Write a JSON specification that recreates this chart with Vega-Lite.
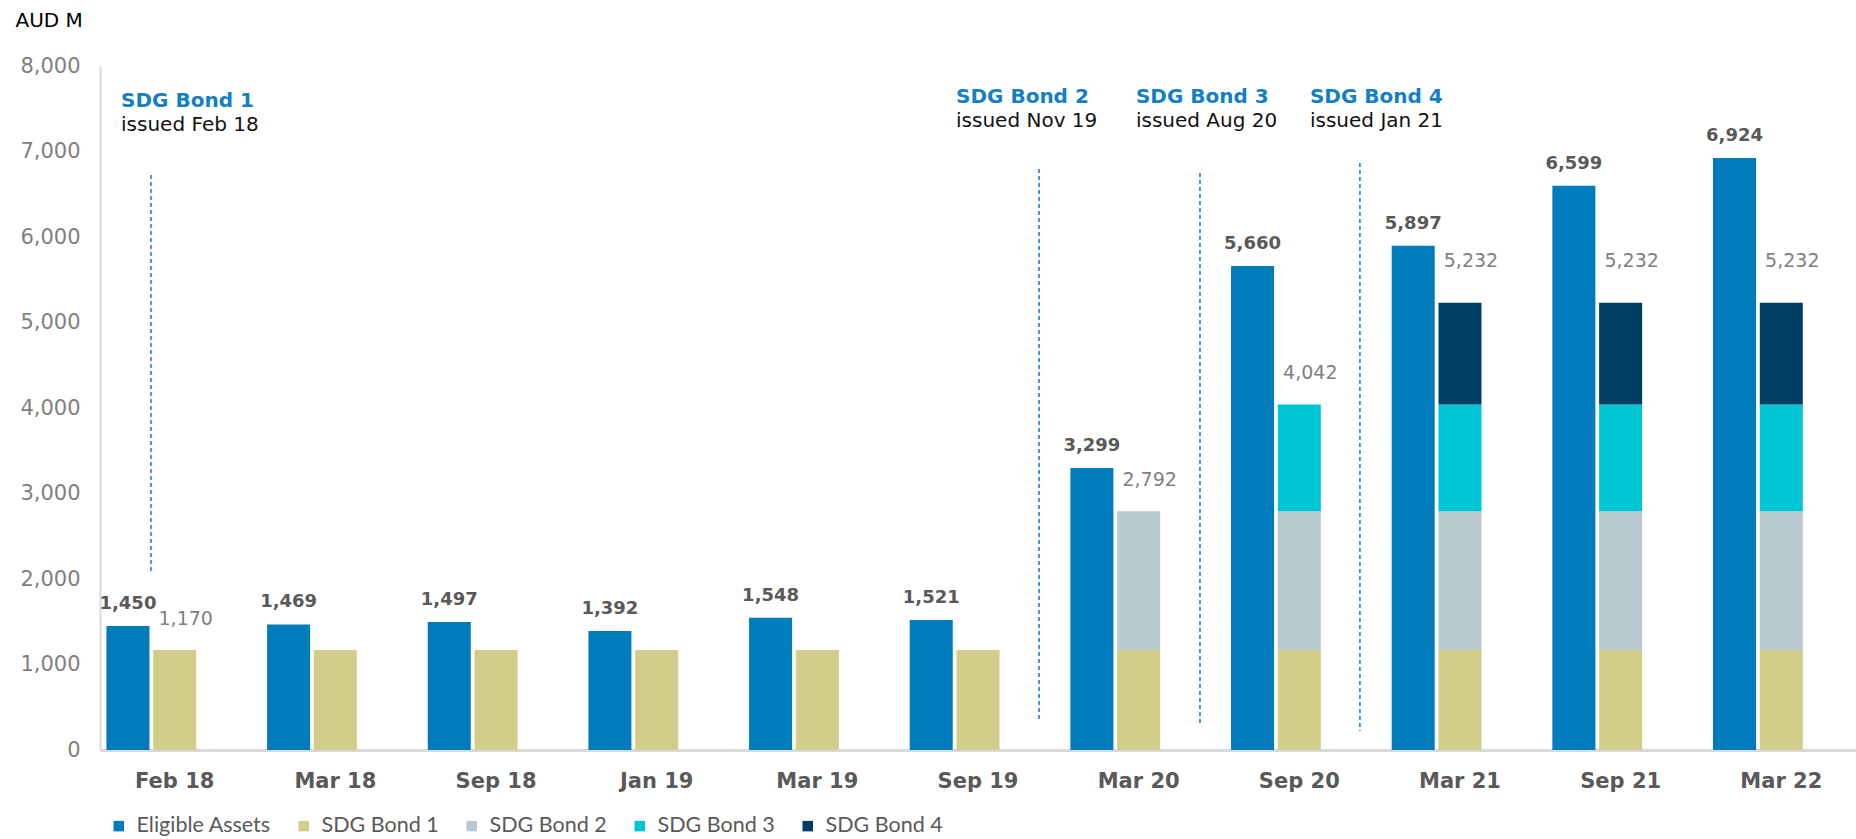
{
  "$schema": "https://vega.github.io/schema/vega-lite/v6.json",
  "width": 1756,
  "height": 684,
  "autosize": {"type": "none"},
  "padding": {"left": 100, "top": 66, "right": 0, "bottom": 89},
  "config": {"view": {"stroke": null}, "font": "DejaVu Sans"},
  "datasets": {
    "bars": [
      {"period": "Feb 18", "series": "Eligible Assets", "value": 1450},
      {"period": "Mar 18", "series": "Eligible Assets", "value": 1469},
      {"period": "Sep 18", "series": "Eligible Assets", "value": 1497},
      {"period": "Jan 19", "series": "Eligible Assets", "value": 1392},
      {"period": "Mar 19", "series": "Eligible Assets", "value": 1548},
      {"period": "Sep 19", "series": "Eligible Assets", "value": 1521},
      {"period": "Mar 20", "series": "Eligible Assets", "value": 3299},
      {"period": "Sep 20", "series": "Eligible Assets", "value": 5660},
      {"period": "Mar 21", "series": "Eligible Assets", "value": 5897},
      {"period": "Sep 21", "series": "Eligible Assets", "value": 6599},
      {"period": "Mar 22", "series": "Eligible Assets", "value": 6924},
      {"period": "Feb 18", "series": "SDG Bond 1", "value": 1170},
      {"period": "Mar 18", "series": "SDG Bond 1", "value": 1170},
      {"period": "Sep 18", "series": "SDG Bond 1", "value": 1170},
      {"period": "Jan 19", "series": "SDG Bond 1", "value": 1170},
      {"period": "Mar 19", "series": "SDG Bond 1", "value": 1170},
      {"period": "Sep 19", "series": "SDG Bond 1", "value": 1170},
      {"period": "Mar 20", "series": "SDG Bond 1", "value": 1170},
      {"period": "Sep 20", "series": "SDG Bond 1", "value": 1170},
      {"period": "Mar 21", "series": "SDG Bond 1", "value": 1170},
      {"period": "Sep 21", "series": "SDG Bond 1", "value": 1170},
      {"period": "Mar 22", "series": "SDG Bond 1", "value": 1170},
      {"period": "Mar 20", "series": "SDG Bond 2", "value": 1622},
      {"period": "Sep 20", "series": "SDG Bond 2", "value": 1622},
      {"period": "Mar 21", "series": "SDG Bond 2", "value": 1622},
      {"period": "Sep 21", "series": "SDG Bond 2", "value": 1622},
      {"period": "Mar 22", "series": "SDG Bond 2", "value": 1622},
      {"period": "Sep 20", "series": "SDG Bond 3", "value": 1250},
      {"period": "Mar 21", "series": "SDG Bond 3", "value": 1250},
      {"period": "Sep 21", "series": "SDG Bond 3", "value": 1250},
      {"period": "Mar 22", "series": "SDG Bond 3", "value": 1250},
      {"period": "Mar 21", "series": "SDG Bond 4", "value": 1190},
      {"period": "Sep 21", "series": "SDG Bond 4", "value": 1190},
      {"period": "Mar 22", "series": "SDG Bond 4", "value": 1190}
    ],
    "totals": [
      {"period": "Feb 18", "total": 1170},
      {"period": "Mar 20", "total": 2792},
      {"period": "Sep 20", "total": 4042},
      {"period": "Mar 21", "total": 5232},
      {"period": "Sep 21", "total": 5232},
      {"period": "Mar 22", "total": 5232}
    ]
  },
  "layer": [
    {
      "data": {"name": "bars"},
      "transform": [{"filter": "datum.series === 'Eligible Assets'"}],
      "mark": {"type": "bar"},
      "encoding": {
        "x": {
          "field": "period", "type": "nominal",
          "sort": ["Feb 18","Mar 18","Sep 18","Jan 19","Mar 19","Sep 19","Mar 20","Sep 20","Mar 21","Sep 21","Mar 22"],
          "scale": {"domain": ["Feb 18","Mar 18","Sep 18","Jan 19","Mar 19","Sep 19","Mar 20","Sep 20","Mar 21","Sep 21","Mar 22"], "paddingInner": 0.15, "paddingOuter": 0.04},
          "axis": {"title": null, "labelAngle": 0, "labelFont": "DejaVu Sans", "labelFontWeight": "bold", "labelFontSize": 21, "labelColor": "#595959", "ticks": false, "tickSize": 0, "labelPadding": 20, "domainColor": "#d9d9d9", "domainWidth": 3}
        },
        "xOffset": {"datum": "A", "type": "nominal", "scale": {"domain": ["A", "B", "C"], "paddingInner": 0.08, "paddingOuter": 0}},
        "y": {
          "field": "value", "type": "quantitative", "stack": null,
          "scale": {"domain": [0, 8000], "nice": false},
          "axis": {"title": "AUD M", "titleAngle": 0, "titleAlign": "left", "titleBaseline": "alphabetic", "titleX": -85, "titleY": -40, "titleFont": "DejaVu Sans", "titleFontSize": 20, "titleFontWeight": "normal", "titleColor": "#000000",
                   "values": [0,1000,2000,3000,4000,5000,6000,7000,8000], "labelExpr": "format(datum.value, ',')", "labelFontSize": 21, "labelColor": "#7f7f7f", "ticks": false, "tickSize": 0, "labelPadding": 20, "grid": false, "domainColor": "#d9d9d9", "domainWidth": 2}
        },
        "color": {
          "field": "series", "type": "nominal",
          "scale": {"domain": ["Eligible Assets","SDG Bond 1","SDG Bond 2","SDG Bond 3","SDG Bond 4"], "range": ["#007bbb","#d3cd8b","#b8c9d0","#00c5d5","#003f63"]},
          "legend": {"title": null, "orient": "none", "legendX": 8, "legendY": 749, "direction": "horizontal", "symbolType": "square", "symbolSize": 110, "symbolStrokeWidth": 0, "labelFont": "Lato", "labelFontSize": 21.5, "labelColor": "#595959", "columnPadding": 22, "labelOffset": 7}
        }
      }
    },
    {
      "data": {"name": "bars"},
      "transform": [{"filter": "datum.series !== 'Eligible Assets'"}],
      "mark": {"type": "bar"},
      "encoding": {
        "x": {"field": "period", "type": "nominal"},
        "xOffset": {"datum": "B", "type": "nominal"},
        "y": {"field": "value", "type": "quantitative", "stack": "zero"},
        "color": {"field": "series", "type": "nominal"},
        "order": {"field": "series", "sort": "ascending"}
      }
    },
    {
      "data": {"name": "bars"},
      "transform": [{"filter": "datum.series === 'Eligible Assets'"}],
      "mark": {"type": "text", "baseline": "alphabetic", "dy": -17, "fontWeight": "bold", "fontSize": 18, "fill": "#595959", "font": "DejaVu Sans"},
      "encoding": {
        "x": {"field": "period", "type": "nominal"},
        "xOffset": {"datum": "A", "type": "nominal"},
        "y": {"field": "value", "type": "quantitative"},
        "text": {"field": "value", "type": "quantitative", "format": ","}
      }
    },
    {
      "data": {"name": "totals"},
      "transform": [{"filter": "datum.total < 5000"}],
      "mark": {"type": "text", "baseline": "alphabetic", "dx": 11, "dy": -25, "fontSize": 19, "fill": "#7f7f7f", "font": "DejaVu Sans"},
      "encoding": {
        "x": {"field": "period", "type": "nominal"},
        "xOffset": {"datum": "B", "type": "nominal"},
        "y": {"field": "total", "type": "quantitative"},
        "text": {"field": "total", "type": "quantitative", "format": ","}
      }
    },
    {
      "data": {"name": "totals"},
      "transform": [{"filter": "datum.total >= 5000"}],
      "mark": {"type": "text", "baseline": "alphabetic", "dx": 11, "dy": -36, "fontSize": 19, "fill": "#7f7f7f", "font": "DejaVu Sans"},
      "encoding": {
        "x": {"field": "period", "type": "nominal"},
        "xOffset": {"datum": "B", "type": "nominal"},
        "y": {"field": "total", "type": "quantitative"},
        "text": {"field": "total", "type": "quantitative", "format": ","}
      }
    },
    {
      "data": {"values": [{}]},
      "mark": {"type": "rule", "stroke": "#0f7cc4", "strokeWidth": 1.5, "strokeDash": [4, 3]},
      "encoding": {"x": {"datum": "Feb 18", "type": "nominal", "bandPosition": 0.326}, "y": {"datum": 6725, "type": "quantitative"}, "y2": {"datum": 2058}}
    },
    {
      "data": {"values": [{}]},
      "mark": {"type": "rule", "stroke": "#0f7cc4", "strokeWidth": 1.5, "strokeDash": [4, 3]},
      "encoding": {"x": {"datum": "Sep 19", "type": "nominal", "bandPosition": 0.947}, "y": {"datum": 6795, "type": "quantitative"}, "y2": {"datum": 327}}
    },
    {
      "data": {"values": [{}]},
      "mark": {"type": "rule", "stroke": "#0f7cc4", "strokeWidth": 1.5, "strokeDash": [4, 3]},
      "encoding": {"x": {"datum": "Mar 20", "type": "nominal", "bandPosition": 0.949}, "y": {"datum": 6749, "type": "quantitative"}, "y2": {"datum": 304}}
    },
    {
      "data": {"values": [{}]},
      "mark": {"type": "rule", "stroke": "#0f7cc4", "strokeWidth": 1.5, "strokeDash": [4, 3]},
      "encoding": {"x": {"datum": "Sep 20", "type": "nominal", "bandPosition": 0.944}, "y": {"datum": 6865, "type": "quantitative"}, "y2": {"datum": 222}}
    },
    {
      "data": {"values": [{}]},
      "mark": {"type": "text", "align": "left", "baseline": "alphabetic", "fontSize": 20, "fontWeight": "bold", "fill": "#1480c4", "font": "DejaVu Sans"},
      "encoding": {"x": {"datum": "Feb 18", "type": "nominal", "bandPosition": 0.107}, "y": {"datum": 7520, "type": "quantitative"}, "text": {"value": "SDG Bond 1"}}
    },
    {
      "data": {"values": [{}]},
      "mark": {"type": "text", "align": "left", "baseline": "alphabetic", "fontSize": 20, "fill": "#111111", "font": "DejaVu Sans"},
      "encoding": {"x": {"datum": "Feb 18", "type": "nominal", "bandPosition": 0.107}, "y": {"datum": 7240, "type": "quantitative"}, "text": {"value": "issued Feb 18"}}
    },
    {
      "data": {"values": [{}]},
      "mark": {"type": "text", "align": "left", "baseline": "alphabetic", "fontSize": 20, "fontWeight": "bold", "fill": "#1480c4", "font": "DejaVu Sans"},
      "encoding": {"x": {"datum": "Sep 19", "type": "nominal", "bandPosition": 0.339}, "y": {"datum": 7570, "type": "quantitative"}, "text": {"value": "SDG Bond 2"}}
    },
    {
      "data": {"values": [{}]},
      "mark": {"type": "text", "align": "left", "baseline": "alphabetic", "fontSize": 20, "fill": "#111111", "font": "DejaVu Sans"},
      "encoding": {"x": {"datum": "Sep 19", "type": "nominal", "bandPosition": 0.339}, "y": {"datum": 7290, "type": "quantitative"}, "text": {"value": "issued Nov 19"}}
    },
    {
      "data": {"values": [{}]},
      "mark": {"type": "text", "align": "left", "baseline": "alphabetic", "fontSize": 20, "fontWeight": "bold", "fill": "#1480c4", "font": "DejaVu Sans"},
      "encoding": {"x": {"datum": "Mar 20", "type": "nominal", "bandPosition": 0.48}, "y": {"datum": 7570, "type": "quantitative"}, "text": {"value": "SDG Bond 3"}}
    },
    {
      "data": {"values": [{}]},
      "mark": {"type": "text", "align": "left", "baseline": "alphabetic", "fontSize": 20, "fill": "#111111", "font": "DejaVu Sans"},
      "encoding": {"x": {"datum": "Mar 20", "type": "nominal", "bandPosition": 0.48}, "y": {"datum": 7290, "type": "quantitative"}, "text": {"value": "issued Aug 20"}}
    },
    {
      "data": {"values": [{}]},
      "mark": {"type": "text", "align": "left", "baseline": "alphabetic", "fontSize": 20, "fontWeight": "bold", "fill": "#1480c4", "font": "DejaVu Sans"},
      "encoding": {"x": {"datum": "Sep 20", "type": "nominal", "bandPosition": 0.578}, "y": {"datum": 7570, "type": "quantitative"}, "text": {"value": "SDG Bond 4"}}
    },
    {
      "data": {"values": [{}]},
      "mark": {"type": "text", "align": "left", "baseline": "alphabetic", "fontSize": 20, "fill": "#111111", "font": "DejaVu Sans"},
      "encoding": {"x": {"datum": "Sep 20", "type": "nominal", "bandPosition": 0.578}, "y": {"datum": 7290, "type": "quantitative"}, "text": {"value": "issued Jan 21"}}
    }
  ]
}
